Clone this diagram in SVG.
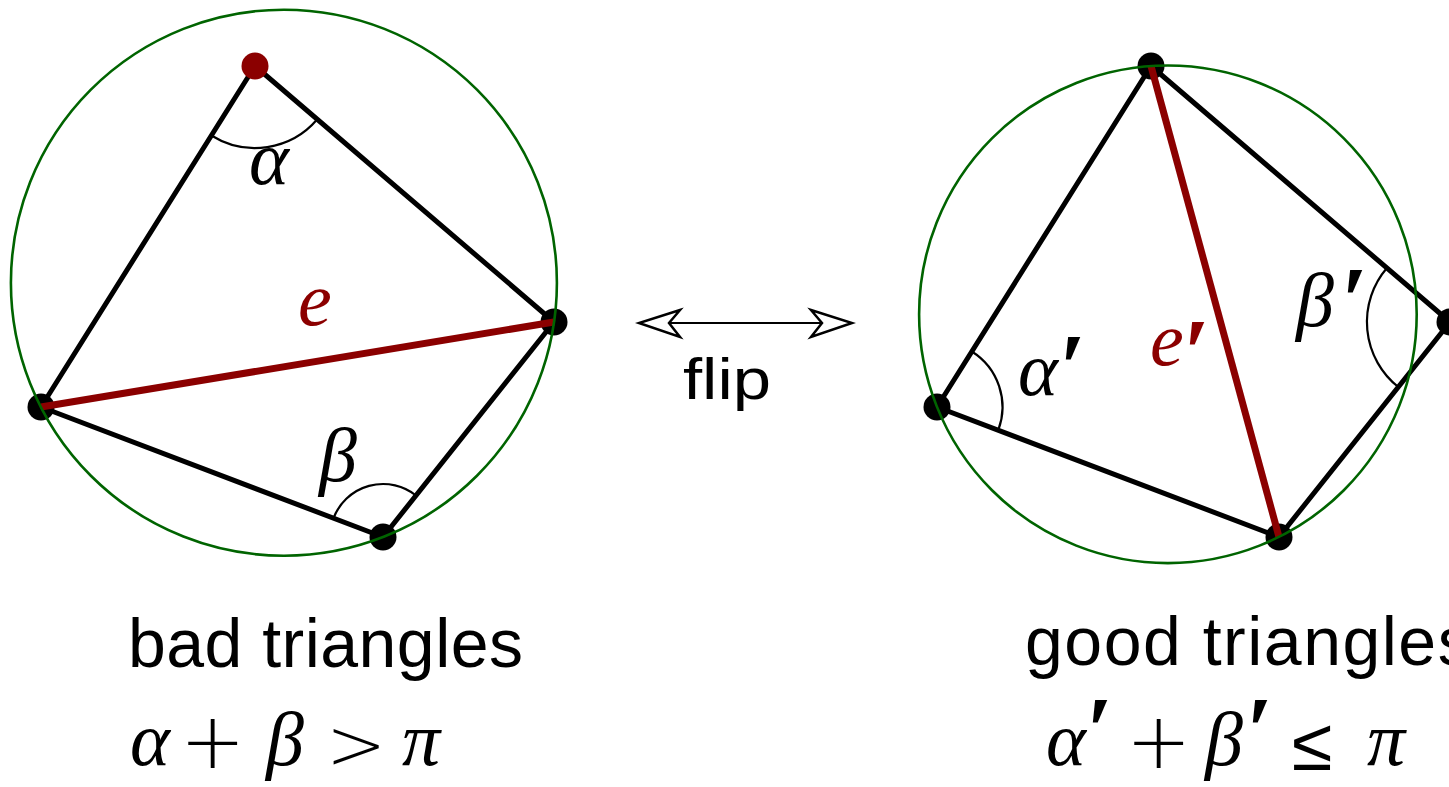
<svg xmlns="http://www.w3.org/2000/svg" width="1449" height="787" viewBox="0 0 1449 787">
<style>
.edge{stroke:#000;stroke-width:5;fill:none;stroke-linecap:round}
.flip{stroke:#8b0000;stroke-width:7;fill:none}
.circ{stroke:#006400;stroke-width:2.6;fill:none}
.arc{stroke:#000;stroke-width:2.2;fill:none}
.dot{fill:#000}
.rdot{fill:#8b0000}
.sans{font-family:"Liberation Sans","Open Sans",sans-serif;fill:#000}
.math{font-family:"Liberation Serif","DejaVu Serif",serif;font-style:italic;font-size:76px;fill:#000}
.op{font-family:"DejaVu Sans","Liberation Sans",sans-serif;font-weight:200;fill:#000}
.pr{font-family:"Liberation Serif","DejaVu Serif",serif;font-weight:bold;font-style:italic;font-size:96px;fill:#000}
.red{fill:#8b0000}
.head{fill:#fff;stroke:#000;stroke-width:2.5;stroke-linejoin:miter}
</style>
<g id="connectors">
  <g id="left-edges">
    <line class="edge" x1="255" y1="66" x2="41" y2="407"/>
    <line class="edge" x1="255" y1="66" x2="554" y2="322"/>
    <line class="edge" x1="41" y1="407" x2="383" y2="537"/>
    <line class="edge" x1="383" y1="537" x2="554" y2="322"/>
  </g>
  <g id="right-edges">
    <line class="edge" x1="1151" y1="66" x2="937" y2="407"/>
    <line class="edge" x1="1151" y1="66" x2="1450" y2="322"/>
    <line class="edge" x1="937" y1="407" x2="1279" y2="537"/>
    <line class="edge" x1="1279" y1="537" x2="1450" y2="322"/>
  </g>
</g>
<g id="left-vertices">
  <circle id="v-left-top" class="rdot" cx="255" cy="66" r="13.5"/>
  <circle id="v-left-left" class="dot" cx="41" cy="407" r="13.5"/>
  <circle id="v-left-bottom" class="dot" cx="383" cy="537" r="13.5"/>
  <circle id="v-left-right" class="dot" cx="554" cy="322" r="13.5"/>
</g>
<g id="right-vertices">
  <circle id="v-right-top" class="dot" cx="1151" cy="66" r="13.5"/>
  <circle id="v-right-left" class="dot" cx="937" cy="407" r="13.5"/>
  <circle id="v-right-bottom" class="dot" cx="1279" cy="537" r="13.5"/>
  <circle id="v-right-right" class="dot" cx="1450" cy="322" r="13.5"/>
</g>
<g id="flip-edges">
  <line id="edge-e" class="flip" x1="41" y1="407" x2="554" y2="322"/>
  <line id="edge-e-prime" class="flip" x1="1151" y1="66" x2="1279" y2="537"/>
</g>
<g id="circles">
  <circle id="circle-left" class="circ" cx="283.9" cy="282.7" r="273"/>
  <circle id="circle-right" class="circ" cx="1167.9" cy="314.3" r="248.8"/>
</g>
<g id="angles">
  <path id="arc-alpha" class="arc" d="M211.4,135.5 A82,82 0 0 0 317.3,119.3"/>
  <path id="arc-beta" class="arc" d="M333.5,518.2 A53,53 0 0 1 416,495.5"/>
  <path id="arc-alpha-prime" class="arc" d="M971.8,351.5 A65.5,65.5 0 0 1 998.2,430.3"/>
  <path id="arc-beta-prime" class="arc" d="M1386.9,268 A83,83 0 0 0 1398.3,387"/>
</g>
<g id="labels">
  <text class="math" x="249" y="184">α</text>
  <text class="math red" x="298" y="325" font-size="86">e</text>
  <text class="math" x="319" y="481">β</text>
  <text class="math" x="1018" y="395">α</text>
  <text class="pr" x="1058" y="400">′</text>
  <text class="math red" x="1150" y="365" font-size="86">e</text>
  <text class="pr red" x="1182" y="385">′</text>
  <text class="math" x="1296" y="326">β</text>
  <text class="pr" x="1340" y="333">′</text>
</g>
<g id="flip-arrow">
  <line x1="665" y1="323" x2="826" y2="323" stroke="#000" stroke-width="2.2"/>
  <path class="head" d="M680,310 L639,323 L680,337 L669,323 Z"/>
  <path class="head" d="M811,310 L852,323 L811,337 L822,323 Z"/>
  <text class="sans" x="683" y="399" font-size="57" textLength="88" lengthAdjust="spacingAndGlyphs">flip</text>
</g>
<g id="caption-left">
  <text class="sans" x="128" y="667" font-size="68" textLength="395" lengthAdjust="spacing">bad triangles</text>
  <text class="math" x="130" y="765">α</text>
  <text class="op" x="180" y="768" font-size="78">+</text>
  <text class="math" x="266" y="765">β</text>
  <text class="op" x="326" y="769" font-size="72">&gt;</text>
  <text class="math" x="402" y="765">π</text>
</g>
<g id="caption-right">
  <text class="sans" x="1025" y="665" font-size="68" letter-spacing="1.5">good triangles</text>
  <text class="math" x="1046" y="765">α</text>
  <text class="pr" x="1085" y="763" font-size="76">′</text>
  <text class="op" x="1126" y="768" font-size="78">+</text>
  <text class="math" x="1205" y="765">β</text>
  <text class="pr" x="1245" y="763" font-size="76">′</text>
  <text class="op" x="1292" y="770" font-size="74">≤</text>
  <text class="math" x="1367" y="765">π</text>
</g>
</svg>
